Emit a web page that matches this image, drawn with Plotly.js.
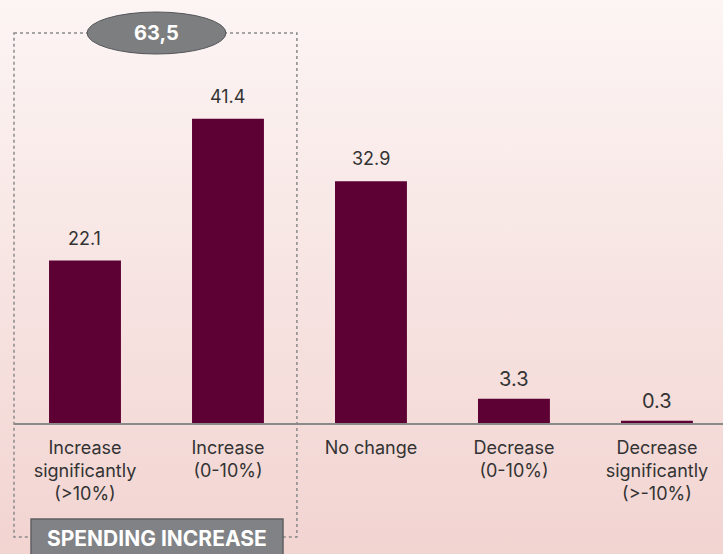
<!DOCTYPE html>
<html>
<head>
<meta charset="utf-8">
<script src="https://cdn.plot.ly/plotly-3.0.1.min.js"></script>
<style>
  html, body { margin: 0; padding: 0; }
  body { width: 723px; height: 554px; background: linear-gradient(to bottom, #fcf5f4 0%, #f2d4d1 100%); overflow: hidden; }
  #chart { width: 723px; height: 554px; }
</style>
</head>
<body>
<div id="chart"></div>
<script>
const categories = ['Increase<br>significantly<br>(>10%)', 'Increase<br>(0-10%)', 'No change', 'Decrease<br>(0-10%)', 'Decrease<br>significantly<br>(>-10%)'];
const values = [22.1, 41.4, 32.9, 3.3, 0.3];
const valueLabels = ['22.1', '41.4', '32.9', '3.3', '0.3'];
const groupTotalLabel = '63,5';
const groupLabel = 'SPENDING INCREASE';

const FONT = 'Inter, Roboto, "DejaVu Sans", sans-serif';
const idx = categories.map((_, i) => i);

const trace = {
  type: 'bar',
  x: idx,
  y: values,
  width: 0.503,
  marker: { color: '#5d0034' },
  hoverinfo: 'skip'
};

const annotations = values.map((v, i) => {
  const small = v < 5;
  return {
    x: i, y: v, xref: 'x', yref: 'y',
    text: valueLabels[i], showarrow: false,
    yanchor: 'bottom', yshift: small ? 6 : 10,
    font: { family: FONT, size: small ? 20 : 18, color: '#333333' }
  };
});

annotations.push({
  xref: 'paper', yref: 'paper', x: 0.201, y: 0.922,
  text: '<b>' + groupTotalLabel + '</b>', showarrow: false,
  xanchor: 'center', yanchor: 'middle',
  font: { family: FONT, size: 20, color: '#ffffff' }
});
annotations.push({
  xref: 'paper', yref: 'paper', x: 0.2017, y: -0.274,
  text: '<b>' + groupLabel + '</b>', showarrow: false,
  xanchor: 'center', yanchor: 'middle',
  font: { family: FONT, size: 21, color: '#ffffff' }
});

const shapes = [
  { type: 'rect', xref: 'paper', yref: 'paper', x0: 0, x1: 0.399, y0: 0.922, y1: -0.2695,
    line: { color: '#8a8a8a', width: 1.5, dash: 'dot' }, fillcolor: 'rgba(0,0,0,0)', layer: 'above' },
  { type: 'circle', xref: 'paper', yref: 'paper', x0: 0.103, x1: 0.299, y0: 0.9716, y1: 0.8723,
    line: { color: '#55565a', width: 1 }, fillcolor: '#7d7e80', layer: 'above' },
  { type: 'rect', xref: 'paper', yref: 'paper', x0: 0.024, x1: 0.3794, y0: -0.227, y1: -0.33,
    line: { color: '#5f6063', width: 1.5 }, fillcolor: '#808285', layer: 'above' }
];

const layout = {
  width: 723, height: 554,
  margin: { l: 14, r: 0, t: 0, b: 131 },
  paper_bgcolor: 'rgba(0,0,0,0)',
  plot_bgcolor: 'rgba(0,0,0,0)',
  showlegend: false,
  xaxis: {
    range: [-0.4965, 4.462],
    tickvals: idx, ticktext: categories,
    showline: true, linecolor: '#8a8a8a', linewidth: 2,
    showgrid: false, zeroline: false, ticks: '',
    ticklabelstandoff: 7,
    tickfont: { family: FONT, size: 18, color: '#333333' },
    fixedrange: true
  },
  yaxis: { range: [0, 57.55], visible: false, fixedrange: true },
  annotations: annotations,
  shapes: shapes,
  font: { family: FONT }
};

Plotly.newPlot('chart', [trace], layout, { displayModeBar: false, staticPlot: true });
</script>
</body>
</html>
